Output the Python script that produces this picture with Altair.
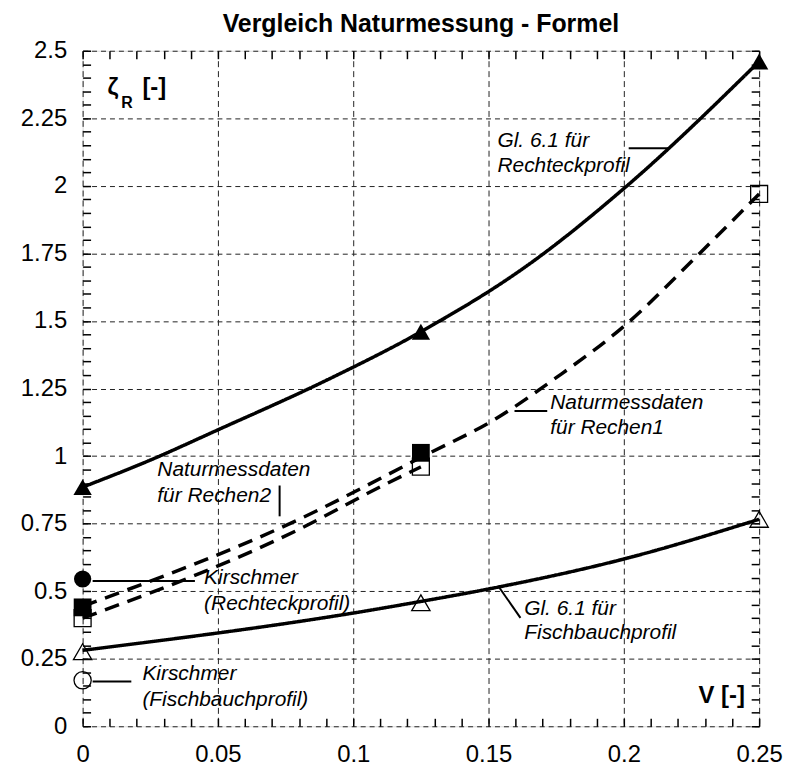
import altair as alt
import pandas as pd

FONT = "Liberation Sans"

# ---- curves ----
rect_x = [0, 0.025, 0.05, 0.09, 0.125, 0.165, 0.2, 0.25]
rect_y = [0.885, 0.985, 1.097, 1.28, 1.46, 1.71, 1.99, 2.46]
fisch_x = [0, 0.109, 0.125, 0.15, 0.2, 0.25]
fisch_y = [0.281, 0.434, 0.462, 0.508, 0.619, 0.766]
rechen1_x = [0, 0.08, 0.125, 0.153, 0.175, 0.2, 0.228, 0.25]
rechen1_y = [0.444, 0.766, 0.995, 1.14, 1.29, 1.48, 1.75, 1.97]
rechen2_x = [0, 0.08, 0.11, 0.125]
rechen2_y = [0.40, 0.729, 0.886, 0.96]

# ---- markers ----
tri_filled_x = [0, 0.125, 0.25]
tri_filled_y = [0.885, 1.46, 2.46]
tri_open_x = [0, 0.125, 0.25]
tri_open_y = [0.276, 0.457, 0.766]
sq_filled_x = [0, 0.125]
sq_filled_y = [0.44, 1.012]
sq_open_x = [0, 0.125, 0.25]
sq_open_y = [0.40, 0.961, 1.97]
circ_filled_x = [0]
circ_filled_y = [0.545]
circ_open_x = [0]
circ_open_y = [0.17]

# ---- ticks ----
x_major = [0, 0.05, 0.1, 0.15, 0.2, 0.25]
y_major = [0, 0.25, 0.5, 0.75, 1, 1.25, 1.5, 1.75, 2, 2.25, 2.5]
x_minor = [round(i * 0.01, 2) for i in range(26)]
y_minor = [round(i * 0.05, 2) for i in range(51)]

# ---- annotations ----
ann_text = ["Gl. 6.1 für", "Rechteckprofil",
            "Naturmessdaten", "für Rechen1",
            "Naturmessdaten", "für Rechen2",
            "Kirschmer", "(Rechteckprofil)",
            "Kirschmer", "(Fischbauchprofil)",
            "Gl. 6.1 für", "Fischbauchprofil"]
ann_x = [0.1533, 0.1533, 0.1728, 0.1728, 0.0276, 0.0276,
         0.0449, 0.0449, 0.0221, 0.0221, 0.1632, 0.1632]
ann_y = [2.165, 2.073, 1.197, 1.105, 0.950, 0.851,
         0.549, 0.453, 0.192, 0.096, 0.435, 0.346]

lead_x = [0.2018, 0.1596, 0.0728, 0.0037, 0.0037, 0.1539]
lead_x2 = [0.2169, 0.1717, 0.0728, 0.0415, 0.0180, 0.1618]
lead_y = [2.139, 1.167, 0.891, 0.5376, 0.1657, 0.5144]
lead_y2 = [2.139, 1.167, 0.777, 0.5376, 0.1657, 0.4013]

bold_text = ["ζ", "[-]", "V [-]"]
bold_x = [0.0092, 0.0221, 0.2276]
bold_y = [2.338, 2.338, 0.085]
sub_text = ["R"]
sub_x = [0.0143]
sub_y = [2.2865]

xs = alt.Scale(domain=[0, 0.25], nice=False, zero=False)
ys = alt.Scale(domain=[0, 2.5], nice=False, zero=False)

def df(x, y):
    return pd.DataFrame({"x": x, "y": y})

main_x_axis = alt.Axis(values=x_major, format=".4~g", title=None, orient="bottom",
                       labelFont=FONT, labelFontSize=24, labelColor="black",
                       labelPadding=16, labelFlush=False, labelOverlap=False,
                       ticks=False, domain=False, grid=True, gridDash=[6, 4],
                       gridColor="#222", gridWidth=1)
main_y_axis = alt.Axis(values=y_major, format=".4~g", title=None, orient="left",
                       labelFont=FONT, labelFontSize=24, labelColor="black",
                       labelPadding=16, labelFlush=False, labelOverlap=False,
                       ticks=False, domain=False, grid=True, gridDash=[5, 4],
                       gridColor="#222", gridWidth=1)

def minor_axis(orient, vals):
    return alt.Axis(values=vals, orient=orient, title=None, labels=False,
                    domain=False, grid=False, ticks=True, tickSize=8,
                    tickWidth=1.5, tickColor="black", offset=-8)

def line_layer(x, y, dash, xaxis, yaxis):
    return alt.Chart(df(x, y)).mark_line(
        color="black", strokeWidth=3.5, interpolate="monotone",
        strokeDash=dash, clip=False
    ).encode(x=alt.X("x:Q", scale=xs, axis=xaxis),
             y=alt.Y("y:Q", scale=ys, axis=yaxis))

l_rect = line_layer(rect_x, rect_y, [1, 0], main_x_axis, main_y_axis)
l_fisch = line_layer(fisch_x, fisch_y, [1, 0],
                     minor_axis("bottom", x_minor), minor_axis("left", y_minor))
l_r1 = line_layer(rechen1_x, rechen1_y, [15, 9],
                  minor_axis("top", x_minor), minor_axis("right", y_minor))
l_r2 = line_layer(rechen2_x, rechen2_y, [15, 9], None, None)

def pts(x, y, shape, filled, size):
    return alt.Chart(df(x, y)).mark_point(
        shape=shape, filled=filled, size=size, color="black",
        strokeWidth=1.3, opacity=1, clip=False
    ).encode(x=alt.X("x:Q", scale=xs, axis=None),
             y=alt.Y("y:Q", scale=ys, axis=None))

markers = [
    pts(sq_open_x, sq_open_y, "square", False, 290),
    pts(sq_filled_x, sq_filled_y, "square", True, 320),
    pts(tri_filled_x, tri_filled_y, "triangle-up", True, 340),
    pts(tri_open_x, tri_open_y, "triangle-up", False, 340),
    pts(circ_filled_x, circ_filled_y, "circle", True, 300),
    pts(circ_open_x, circ_open_y, "circle", False, 300),
]

leaders = alt.Chart(pd.DataFrame({"x": lead_x, "x2": lead_x2, "y": lead_y, "y2": lead_y2})).mark_rule(
    color="black", strokeWidth=2
).encode(x=alt.X("x:Q", scale=xs, axis=None), x2="x2:Q",
         y=alt.Y("y:Q", scale=ys, axis=None), y2="y2:Q")

ann = alt.Chart(pd.DataFrame({"x": ann_x, "y": ann_y, "t": ann_text})).mark_text(
    align="left", baseline="middle", font=FONT, fontSize=21, fontStyle="italic",
    color="black"
).encode(x=alt.X("x:Q", scale=xs, axis=None), y=alt.Y("y:Q", scale=ys, axis=None), text="t:N")

bold = alt.Chart(pd.DataFrame({"x": bold_x, "y": bold_y, "t": bold_text})).mark_text(
    align="left", baseline="alphabetic", font=FONT, fontSize=24, fontWeight="bold",
    color="black"
).encode(x=alt.X("x:Q", scale=xs, axis=None), y=alt.Y("y:Q", scale=ys, axis=None), text="t:N")

sub = alt.Chart(pd.DataFrame({"x": sub_x, "y": sub_y, "t": sub_text})).mark_text(
    align="left", baseline="alphabetic", font=FONT, fontSize=16, fontWeight="bold",
    color="black"
).encode(x=alt.X("x:Q", scale=xs, axis=None), y=alt.Y("y:Q", scale=ys, axis=None), text="t:N")

chart = alt.layer(
    l_rect, l_fisch, l_r1, l_r2, leaders, *markers, ann, bold, sub
).resolve_scale(x="shared", y="shared").resolve_axis(
    x="independent", y="independent"
).properties(
    width=680, height=679,
    autosize=alt.AutoSizeParams(type="none"),
    padding={"left": 75, "top": 41, "right": 25, "bottom": 44},
    title=alt.TitleParams("Vergleich Naturmessung - Formel", font=FONT, fontSize=25,
                          fontWeight="bold", anchor="middle", color="black", offset=2),
).configure_view(stroke="black", strokeWidth=4).configure(background="white")

chart.save("out.html", embed_options={"renderer": "svg", "actions": False})
